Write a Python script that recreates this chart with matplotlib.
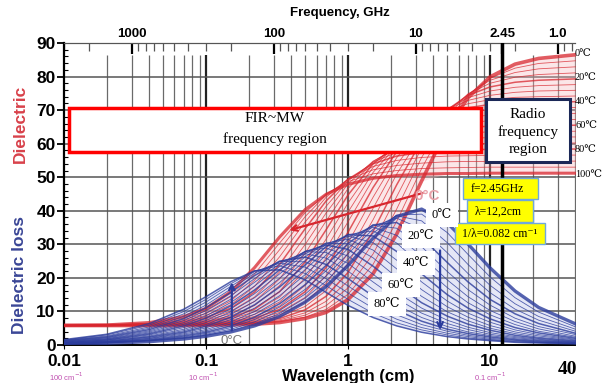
import numpy as np
import matplotlib
matplotlib.use('Agg')
import matplotlib.pyplot as plt
from matplotlib.patches import Rectangle
from matplotlib.ticker import FixedLocator, NullFormatter

plt.rcParams['font.family'] = ['Liberation Sans', 'DejaVu Sans']

# wavelength (cm) at which the curves were read
wavelength_cm = [0.01, 0.02, 0.04, 0.07, 0.1, 0.15, 0.22, 0.33, 0.5, 0.7, 1, 1.5,
                 2.2, 3.3, 5, 7, 10, 15, 22, 40]
temps_c = list(range(0, 101, 5))

# dielectric constant e' (x10), one row per temperature 0..100 C
dielectric_x10 = [
    [58, 58, 58, 58, 59, 60, 62, 67, 79, 97, 135, 212, 330, 489, 645, 737, 799, 837, 854, 865],
    [58, 58, 58, 59, 59, 60, 63, 69, 83, 106, 151, 240, 368, 526, 667, 745, 795, 825, 839, 847],
    [58, 58, 58, 59, 59, 61, 64, 72, 89, 117, 170, 271, 405, 559, 683, 748, 789, 812, 823, 829],
    [58, 58, 58, 59, 60, 62, 66, 75, 96, 130, 191, 304, 442, 587, 695, 748, 780, 798, 806, 811],
    [58, 58, 58, 59, 60, 62, 68, 79, 105, 145, 216, 338, 477, 609, 701, 744, 769, 783, 789, 793],
    [58, 58, 58, 59, 60, 64, 70, 84, 115, 162, 243, 373, 509, 627, 703, 737, 757, 768, 773, 776],
    [58, 58, 58, 60, 61, 65, 73, 90, 128, 183, 273, 407, 536, 639, 702, 729, 744, 753, 757, 759],
    [58, 58, 59, 60, 62, 67, 76, 97, 142, 206, 304, 440, 558, 647, 697, 719, 731, 738, 740, 742],
    [58, 58, 59, 60, 63, 69, 80, 106, 159, 231, 336, 469, 576, 650, 690, 707, 717, 722, 724, 725],
    [58, 58, 59, 61, 64, 71, 85, 116, 178, 258, 367, 494, 587, 648, 681, 694, 701, 705, 707, 708],
    [58, 58, 59, 62, 65, 74, 91, 128, 199, 286, 396, 514, 594, 643, 669, 679, 685, 688, 689, 690],
    [58, 58, 59, 62, 67, 78, 99, 143, 223, 315, 423, 529, 597, 636, 656, 664, 668, 671, 672, 672],
    [58, 58, 60, 63, 69, 82, 107, 159, 248, 343, 447, 540, 595, 627, 642, 649, 652, 654, 654, 655],
    [58, 59, 60, 65, 71, 87, 118, 177, 274, 369, 466, 546, 591, 616, 628, 633, 635, 636, 637, 637],
    [58, 59, 61, 66, 74, 94, 130, 197, 300, 393, 480, 548, 584, 603, 613, 616, 618, 619, 620, 620],
    [58, 59, 61, 68, 78, 101, 143, 218, 324, 413, 489, 545, 574, 589, 596, 599, 601, 601, 602, 602],
    [58, 59, 62, 70, 82, 110, 158, 240, 347, 429, 494, 540, 563, 574, 580, 582, 583, 584, 584, 584],
    [58, 59, 63, 73, 88, 120, 175, 263, 367, 440, 495, 532, 550, 559, 563, 564, 565, 566, 566, 566],
    [58, 60, 64, 76, 94, 132, 193, 284, 383, 447, 493, 522, 535, 542, 546, 547, 547, 548, 548, 548],
    [58, 60, 65, 80, 101, 145, 212, 304, 395, 450, 487, 510, 520, 526, 528, 529, 530, 530, 530, 530],
    [59, 60, 67, 85, 109, 159, 231, 322, 404, 449, 479, 497, 505, 509, 511, 511, 512, 512, 512, 512],
]

# dielectric loss e'' (x10), one row per temperature 0..100 C
loss_x10 = [
    [3, 5, 10, 18, 26, 39, 57, 85, 128, 174, 237, 318, 383, 405, 364, 301, 230, 161, 112, 63],
    [3, 6, 12, 20, 29, 43, 63, 94, 140, 190, 255, 333, 387, 390, 335, 270, 203, 141, 98, 54],
    [3, 6, 13, 22, 32, 47, 69, 103, 152, 205, 272, 345, 385, 370, 305, 240, 178, 123, 85, 47],
    [3, 7, 14, 24, 35, 52, 76, 113, 166, 221, 288, 354, 378, 346, 275, 213, 156, 107, 74, 41],
    [4, 8, 15, 27, 38, 57, 83, 123, 180, 237, 302, 358, 365, 320, 246, 188, 136, 93, 64, 35],
    [4, 8, 17, 30, 42, 63, 92, 135, 195, 253, 314, 357, 348, 293, 219, 165, 119, 80, 55, 31],
    [5, 9, 19, 33, 46, 69, 100, 147, 210, 268, 323, 351, 327, 265, 194, 144, 103, 70, 48, 26],
    [5, 10, 20, 36, 51, 76, 110, 159, 225, 282, 329, 340, 304, 238, 171, 126, 90, 61, 41, 23],
    [6, 11, 23, 39, 56, 83, 120, 173, 239, 293, 329, 325, 279, 212, 150, 110, 78, 52, 36, 20],
    [6, 12, 25, 43, 61, 91, 130, 186, 252, 300, 325, 305, 253, 188, 131, 95, 68, 45, 31, 17],
    [7, 14, 27, 47, 67, 99, 141, 199, 263, 304, 315, 283, 227, 165, 114, 83, 58, 39, 27, 15],
    [7, 15, 30, 52, 73, 108, 153, 212, 272, 303, 302, 260, 202, 145, 99, 72, 50, 34, 23, 13],
    [8, 16, 33, 57, 80, 117, 164, 224, 278, 298, 285, 235, 179, 126, 86, 62, 44, 29, 20, 11],
    [9, 18, 36, 62, 87, 127, 176, 234, 280, 289, 265, 211, 157, 110, 74, 53, 37, 25, 17, 9],
    [10, 19, 39, 67, 95, 137, 187, 242, 278, 276, 243, 188, 138, 95, 64, 46, 32, 22, 15, 8],
    [11, 21, 42, 73, 103, 147, 198, 248, 272, 259, 220, 166, 120, 82, 55, 39, 28, 19, 13, 7],
    [12, 23, 46, 79, 111, 157, 207, 250, 262, 240, 198, 146, 104, 71, 47, 34, 24, 16, 11, 6],
    [13, 25, 50, 86, 119, 167, 214, 249, 248, 219, 176, 127, 90, 61, 41, 29, 20, 14, 9, 5],
    [14, 27, 54, 93, 128, 175, 219, 244, 232, 198, 155, 110, 77, 52, 35, 25, 17, 12, 8, 4],
    [15, 30, 59, 100, 136, 183, 221, 236, 213, 177, 136, 95, 66, 45, 30, 21, 15, 10, 7, 4],
    [16, 32, 64, 107, 144, 189, 221, 224, 194, 157, 118, 82, 57, 38, 25, 18, 13, 8, 6, 3],
]

freq_ticks = [1000, 100, 10, 2.45, 1.0]
freq_labels = ['1000', '100', '10', '2.45', '1.0']
right_labels = ['0℃', '20℃', '40℃', '60℃', '80℃', '100℃']

lam = np.array(wavelength_cm)
ep = np.array(dielectric_x10) / 10.0
epp = np.array(loss_x10) / 10.0

RED = '#d8262e'
BLUE = '#2b3c9c'
SERIF = ['Liberation Serif', 'DejaVu Serif', 'Noto Sans CJK SC']
W, H = 603, 383

fig = plt.figure(figsize=(6.03, 3.83), dpi=100)
ax = fig.add_axes([64 / W, 1 - 345 / H, 511.5 / W, 302 / H])
ax.set_xscale('log')
ax.set_xlim(0.01, 40)
ax.set_ylim(0, 90)

# grid
minor_lam = [m * 10.0 ** k for k in range(-2, 2) for m in range(2, 10) if m * 10.0 ** k <= 40]
ax.vlines(minor_lam, 0, 86.5, color='#6a6a6a', lw=0.9, zorder=1)
ax.vlines([0.1, 1, 10], 0, 86.5, color='#222222', lw=1.6, zorder=1)
ax.hlines(range(10, 90, 10), 0.01, 40, color='#555555', lw=1.1, zorder=1)

# curve families
ax.fill_between(lam, ep.min(0), ep.max(0), color='#f4b9be', alpha=0.35, lw=0, zorder=2)
ax.fill_between(lam, epp.min(0), epp.max(0), color='#b6bde8', alpha=0.35, lw=0, zorder=2)
for i, t in enumerate(temps_c):
    lw = 0.6
    if t % 20 == 0:
        lw = 1.1
    if t == 0:
        lw = 2.6
    if t == 100:
        lw = 2.2
    ax.plot(lam, ep[i], color=RED, lw=lw, alpha=0.75, zorder=3)
for i, t in enumerate(temps_c):
    lw = 0.6
    if t % 20 == 0:
        lw = 1.1
    if t == 0:
        lw = 2.4
    ax.plot(lam, epp[i], color=BLUE, lw=lw, alpha=0.8, zorder=3)

ax.axvline(30 / 2.45, color='black', lw=2.5, zorder=4)

ax.annotate('', xy=(0.152, 19.5), xytext=(0.152, 3.5),
            arrowprops=dict(arrowstyle='->', color=BLUE, lw=1.6), zorder=4)
ax.annotate('', xy=(4.45, 3.6), xytext=(4.45, 29),
            arrowprops=dict(arrowstyle='->', color=BLUE, lw=1.6), zorder=4)
ax.annotate('', xy=(0.37, 34), xytext=(3.5, 45.5),
            arrowprops=dict(arrowstyle='->', color=RED, lw=1.6), zorder=4)

ax.spines['right'].set_visible(False)
ax.spines['left'].set_linewidth(1.6)
ax.spines['bottom'].set_linewidth(1.4)
ax.spines['top'].set_color('#555555')

ax.set_yticks(range(0, 91, 10))
ax.set_yticklabels([str(v) for v in range(0, 91, 10)], fontweight='bold', fontsize=12.5)
ax.yaxis.set_minor_locator(FixedLocator(range(0, 91, 2)))
ax.tick_params(axis='y', which='major', direction='out', length=5, width=1.3, pad=1)
ax.tick_params(axis='y', which='minor', direction='in', length=3, width=0.8)
ax.set_xticks([0.01, 0.1, 1, 10])
ax.set_xticklabels(['0.01', '0.1', '1', '10'], fontweight='bold', fontsize=12.5)
ax.xaxis.set_minor_locator(FixedLocator([]))
ax.tick_params(axis='x', which='major', direction='out', length=3, pad=3.5)


def inv(v):
    v = np.asarray(v, float)
    with np.errstate(divide='ignore'):
        return 30.0 / v


# frequency axis on top
sec = ax.secondary_xaxis('top', functions=(inv, inv))
sec.set_xticks(freq_ticks)
sec.set_xticklabels(freq_labels, fontweight='bold', fontsize=9.5)
minor_f = [m * 10.0 ** k for k in range(-1, 4) for m in range(2, 10) if 0.75 <= m * 10.0 ** k <= 3000]
sec.xaxis.set_minor_locator(FixedLocator(minor_f))
sec.xaxis.set_minor_formatter(NullFormatter())
sec.tick_params(which='major', direction='in', length=8, width=1.6, pad=2)
sec.tick_params(which='minor', direction='in', length=6, width=0.9, color='#555555')
sec.spines['top'].set_color('#555555')

fig.text(340 / W, 1 - 13 / H, 'Frequency, GHz', fontweight='bold', fontsize=9.5,
         ha='center', va='center')
fig.text(348 / W, 1 - 376 / H, 'Wavelength (cm)', fontweight='bold', fontsize=12,
         ha='center', va='center')
fig.text(20 / W, 1 - 124 / H, 'Dielectric', color='#d8414a', fontweight='bold',
         fontsize=12.5, rotation=90, ha='center', va='center')
fig.text(20 / W, 1 - 275 / H, 'Dielectric loss', color='#3a4696', fontweight='bold',
         fontsize=12.5, rotation=90, ha='center', va='center')
for px, s in [(66, '100 cm$^{-1}$'), (203, '10 cm$^{-1}$'), (490, '0.1 cm$^{-1}$')]:
    fig.text(px / W, 1 - 377 / H, s, color='#c04fb0', fontsize=5.5, ha='center', va='center')
fig.text(567 / W, 1 - 370 / H, '40', family=SERIF, fontweight='bold', fontsize=14,
         ha='center', va='center')

for py, s in zip([53, 78, 101, 125, 149, 174], right_labels):
    fig.text(575 / W, 1 - py / H, s, family=SERIF, fontsize=7.5, ha='left', va='center')


def box(x0, y0, x1, y1, fc, ec, lw):
    fig.add_artist(Rectangle((x0 / W, 1 - y1 / H), (x1 - x0) / W, (y1 - y0) / H,
                             transform=fig.transFigure, facecolor=fc, edgecolor=ec, lw=lw, zorder=5))


def ftext(x, y, s, size, **kw):
    fig.text(x / W, 1 - y / H, s, family=SERIF, fontsize=size, ha='center', va='center',
             zorder=6, **kw)


box(69, 108, 481, 152, 'white', '#ff0000', 2.5)
ftext(275, 119, 'FIR~MW', 11)
ftext(275, 139, 'frequency region', 11)
box(486, 99, 570, 162, 'white', '#1b2857', 2.2)
ftext(528, 114, 'Radio', 11)
ftext(528, 132, 'frequency', 11)
ftext(528, 150, 'region', 11)
box(463, 178, 538, 199, '#ffff00', '#6fa8dc', 1)
ftext(497, 189, 'f=2.45GHz', 8.5)
box(467, 200, 533, 222, '#ffff00', '#6fa8dc', 1)
ftext(498, 212, 'λ=12,2cm', 8.5)
box(455, 223, 545, 244, '#ffff00', '#6fa8dc', 1)
ftext(500, 234, '1/λ=0.082 cm⁻¹', 8.5)

for x, y, s in [(442, 215, '0℃'), (421, 236, '20℃'), (416, 263, '40℃'), (401, 285, '60℃'), (387, 304, '80℃')]:
    ftext(x, y, s, 9, bbox=dict(facecolor='white', edgecolor='none', boxstyle='square,pad=0.45'))

fig.text(427 / W, 1 - 196 / H, '0°C', color='#e8a0a8', fontweight='bold', fontsize=11,
         ha='center', va='center')
fig.text(232 / W, 1 - 341 / H, '0°C', color='#777777', fontsize=9.5, ha='center', va='center')

fig.savefig('out.png', dpi=100)
